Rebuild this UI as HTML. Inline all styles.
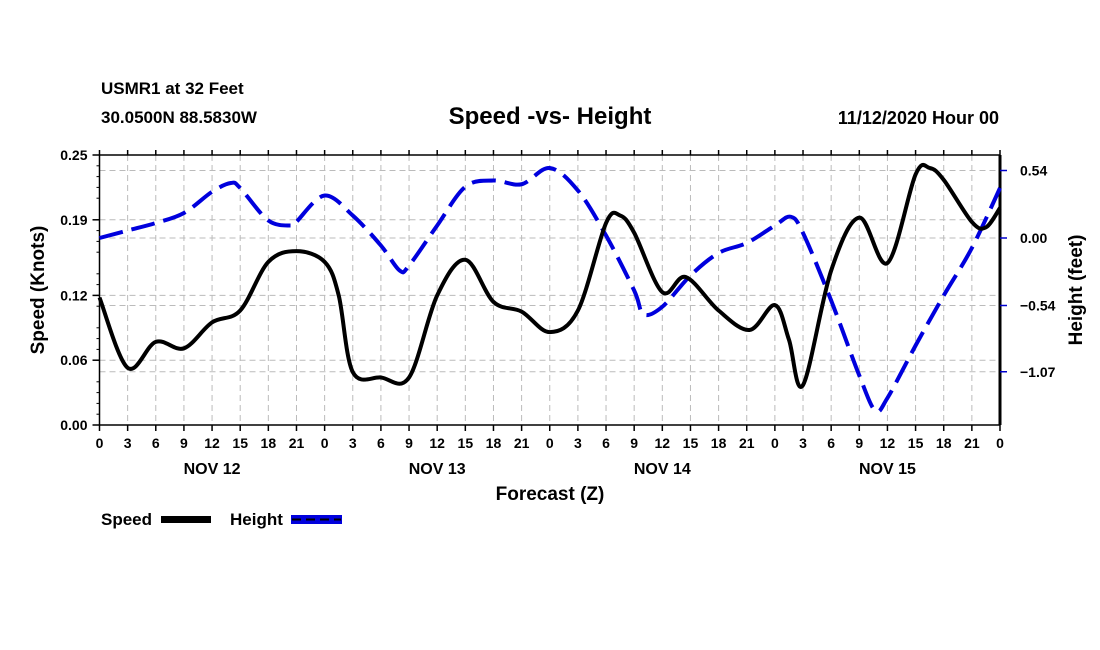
<!DOCTYPE html>
<html><head><meta charset="utf-8"><style>
body{margin:0;background:#fff;}
svg{display:block;font-family:"Liberation Sans",sans-serif;font-weight:bold;}
</style></head><body>
<svg id="chart" width="1100" height="650" viewBox="0 0 1100 650">
<text x="101" y="94" font-size="17">USMR1 at 32 Feet</text>
<text x="101" y="123" font-size="17">30.0500N 88.5830W</text>
<text x="550" y="124" font-size="24" text-anchor="middle">Speed -vs- Height</text>
<text x="999" y="124" font-size="18" text-anchor="end">11/12/2020 Hour 00</text>
<g id="grid"></g>
<g id="axes"></g>
<g id="series"></g>
<text x="550" y="500" font-size="19" text-anchor="middle">Forecast (Z)</text>
<text transform="translate(44,290) rotate(-90)" font-size="19" text-anchor="middle">Speed (Knots)</text>
<text transform="translate(1082,290) rotate(-90)" font-size="19" text-anchor="middle">Height (feet)</text>
<g>
<text x="101" y="525" font-size="17">Speed</text>
<rect x="161" y="516" width="50" height="7" fill="#000"/>
<text x="230" y="525" font-size="17">Height</text>
<rect x="291" y="515" width="51" height="9" fill="#0000dd"/>
<line x1="292" y1="519.5" x2="341" y2="519.5" stroke="#000" stroke-width="2" stroke-dasharray="9 5"/>
</g>
</svg>
<script>
const speedHours=[0,3,6,9,12,15,18,21,24,25.5,27,30,33,36,39,42,45,48,51,54,55.5,57,60,62.5,66,69.3,72,73.5,75,78,81,84,87,88.5,90,93,94.5,96];
const speedValues=[.118,.053,.077,.071,.095,.106,.151,.161,.151,.12,.049,.044,.044,.120,.153,.114,.105,.086,.106,.187,.194,.178,.123,.137,.106,.088,.111,.079,.037,.143,.192,.150,.232,.238,.227,.188,.183,.201];
const heightHours=[0,3,6,9,12,14,15,18,20.5,21,24,27,30,32,33,36,39,42,45,48,51,54,57,58,60,63,66,69,72,73.7,75,78,81,82.7,84,87,90,93,96];
const heightValues=[0,.06,.12,.2,.37,.44,.40,.14,.10,.13,.34,.18,-.06,-.26,-.22,.10,.41,.46,.43,.56,.38,.02,-.42,-.61,-.55,-.30,-.12,-.04,.10,.17,.04,-.50,-1.10,-1.38,-1.28,-.86,-.46,-.08,.40];
const leftTicks=[0,0.06,0.12,0.19,0.25];
const leftTickLabels=["0.00","0.06","0.12","0.19","0.25"];
const rightTicks=[0.54,0,-0.54,-1.07];
const rightTickLabels=["0.54","0.00","\u22120.54","\u22121.07"];
const hourLabels=["0","3","6","9","12","15","18","21"];
const dayLabels=["NOV 12","NOV 13","NOV 14","NOV 15"];

const NS="http://www.w3.org/2000/svg";
const L=99.5,R=1000,T=155,B=425;
const xS=h=>L+h*(R-L)/96;
const yL=v=>B-v*(B-T)/0.25;
const yR=v=>238-v*125;
function mk(tag,attrs,parent){const e=document.createElementNS(NS,tag);for(const k in attrs)e.setAttribute(k,attrs[k]);parent.appendChild(e);return e;}
const grid=document.getElementById('grid'),axes=document.getElementById('axes'),series=document.getElementById('series');
const gs={stroke:"#bbb","stroke-width":1,"stroke-dasharray":"6 4"};
for(let h=3;h<96;h+=3){const e=mk('line',Object.assign({x1:xS(h),x2:xS(h),y1:T,y2:B},gs),grid);

}
leftTicks.forEach(v=>{if(v>0&&v<0.25){const e=mk('line',Object.assign({x1:L,x2:R,y1:yL(v),y2:yL(v)},gs),grid);

}});
rightTicks.forEach(v=>{const e=mk('line',Object.assign({x1:L,x2:R,y1:yR(v),y2:yR(v)},gs),grid);

});
let f=mk('line',{x1:L,x2:R,y1:T,y2:T,stroke:"#000","stroke-width":1.5},axes);


f=mk('line',{x1:L,x2:R,y1:B,y2:B,stroke:"#000","stroke-width":1.5},axes);


f=mk('line',{x1:L,x2:L,y1:T,y2:B,stroke:"#000","stroke-width":1.5},axes);


f=mk('line',{x1:R,x2:R,y1:T,y2:B,stroke:"#000","stroke-width":3},axes);


for(let h=0;h<=96;h+=3){
 mk('line',{x1:xS(h),x2:xS(h),y1:B,y2:B+6,stroke:"#000","stroke-width":1.5},axes);
 mk('line',{x1:xS(h),x2:xS(h),y1:T,y2:T-5,stroke:"#000","stroke-width":1.5},axes);
 const t=mk('text',{x:xS(h),y:B+23,"font-size":14,"text-anchor":"middle"},axes);
 t.textContent=h%24===0?"0":hourLabels[(h%24)/3];
 
 
}
for(let i=0;i<=25;i++){const y=B-i*(B-T)/25;mk('line',{x1:L-(i%5===0?0:3),x2:L,y1:y,y2:y,stroke:"#000","stroke-width":1},axes);}
dayLabels.forEach((d,i)=>{const t=mk('text',{x:xS(12+24*i),y:B+49,"font-size":16,"text-anchor":"middle"},axes);t.textContent=d;

});
leftTicks.forEach((v,i)=>{mk('line',{x1:L-7,x2:L,y1:yL(v),y2:yL(v),stroke:"#000","stroke-width":1.5},axes);
const t=mk('text',{x:L-12,y:yL(v)+5,"font-size":14,"text-anchor":"end"},axes);t.textContent=leftTickLabels[i];

});
rightTicks.forEach((v,i)=>{mk('line',{x1:R,x2:R+7,y1:yR(v),y2:yR(v),stroke:"#0000cc","stroke-width":1.5},axes);
const t=mk('text',{x:R+20,y:yR(v)+5,"font-size":14},axes);t.textContent=rightTickLabels[i];

});
function smooth(pts){let d=`M${pts[0][0]},${pts[0][1]}`;for(let i=0;i<pts.length-1;i++){const p0=pts[Math.max(0,i-1)],p1=pts[i],p2=pts[i+1],p3=pts[Math.min(pts.length-1,i+2)];
d+=` C${p1[0]+(p2[0]-p0[0])/6},${p1[1]+(p2[1]-p0[1])/6} ${p2[0]-(p3[0]-p1[0])/6},${p2[1]-(p3[1]-p1[1])/6} ${p2[0]},${p2[1]}`;}return d;}
const hp=mk('path',{d:smooth(heightHours.map((h,i)=>[xS(h),yR(heightValues[i])])),fill:"none",stroke:"#0000dd","stroke-width":4,"stroke-dasharray":"24 9"},series);


const sp=mk('path',{d:smooth(speedHours.map((h,i)=>[xS(h),yL(speedValues[i])])),fill:"none",stroke:"#000","stroke-width":4,"stroke-linejoin":"round"},series);


</script>
</body></html>
